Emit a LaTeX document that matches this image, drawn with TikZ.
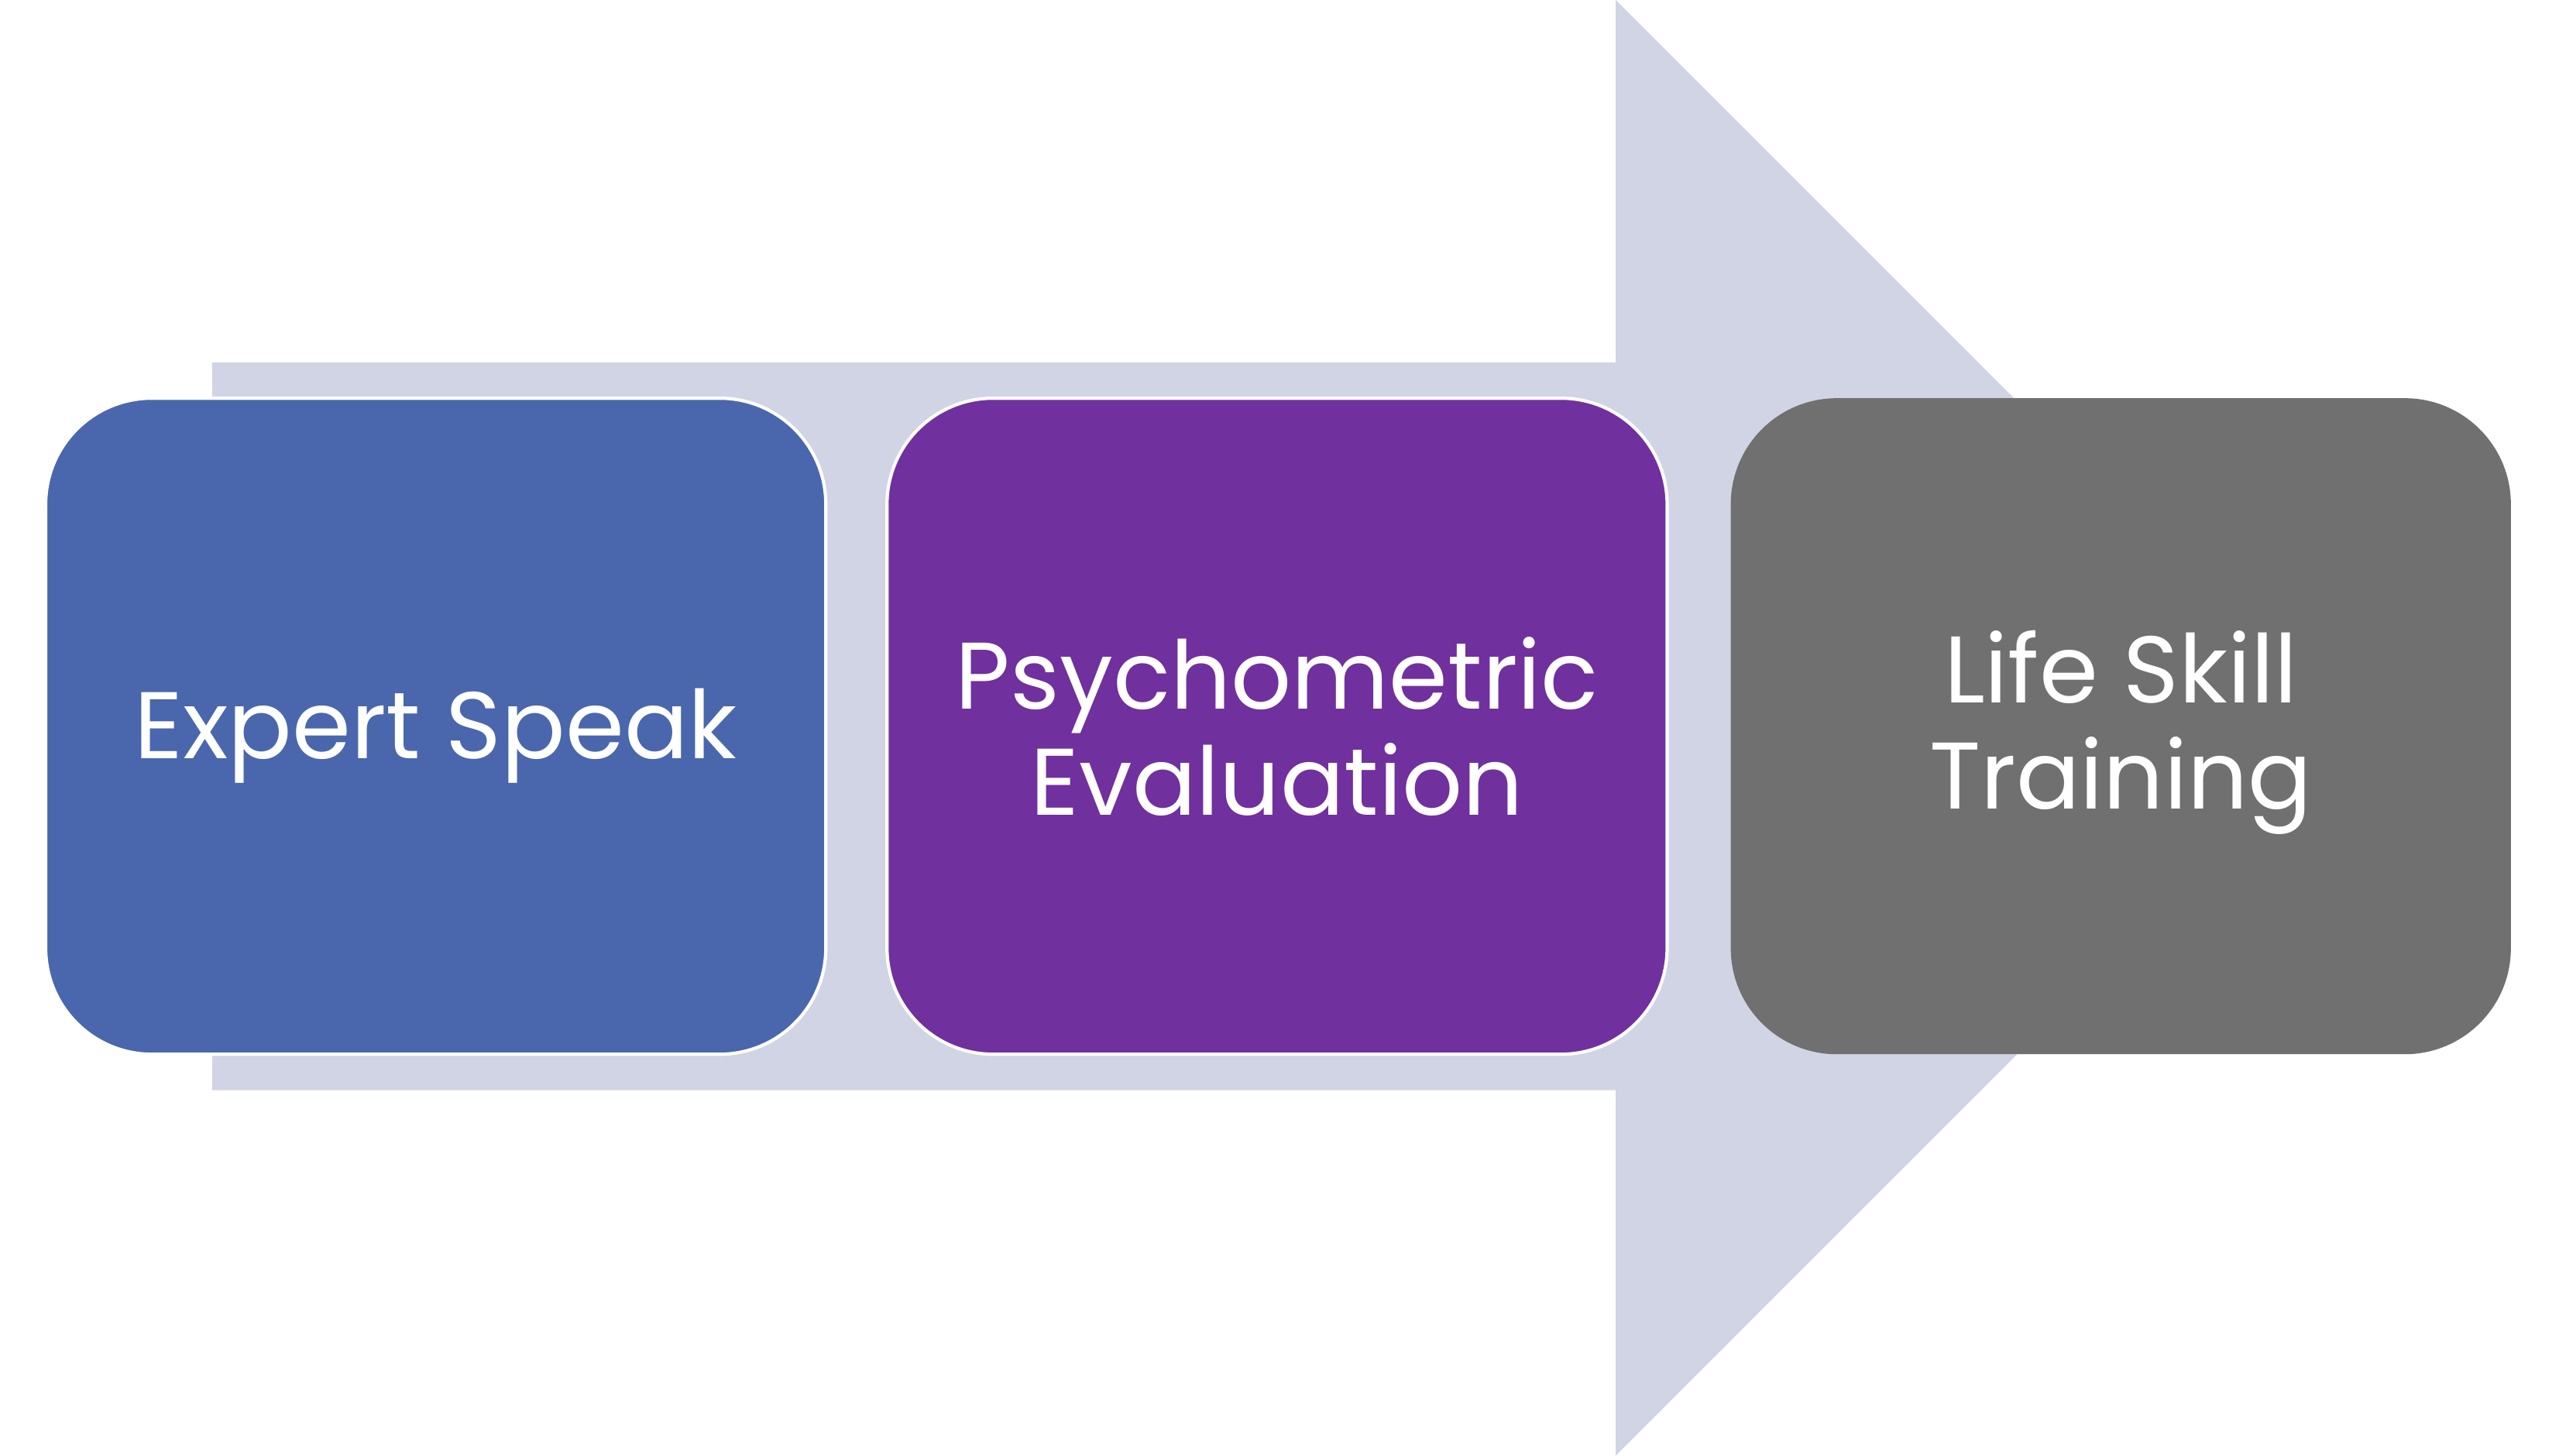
\documentclass[tikz,border=0pt]{standalone}
\usepackage{fontspec}
\setmainfont{Poppins}
\definecolor{arrowfill}{HTML}{D0D4E4}
\definecolor{boxblue}{HTML}{4A67AD}
\definecolor{boxpurple}{HTML}{70309E}
\definecolor{boxgray}{HTML}{707070}
\begin{document}
\begin{tikzpicture}[x=1pt,y=-1pt,
  labeltext/.style={text=white, align=center, font=\fontsize{58}{65}\selectfont},
  stepbox/.style={rounded corners=65pt, minimum width=478pt, minimum height=402pt,
    inner sep=0pt, labeltext},
  edged/.style={draw=white, line width=2pt}]
\useasboundingbox (0,0) rectangle (1568,892);
\fill[arrowfill] (130,222) -- (990,222) -- (990,0) -- (1436,446) -- (990,892) -- (990,668) -- (130,668) -- cycle;
\node[stepbox, edged, fill=boxblue] (expert) at (267,445) {};
\node[labeltext] (expertlabel) at (267,451) {Expert Speak};
\node[stepbox, edged, fill=boxpurple] (psycho) at (782.5,445) {Psychometric\\Evaluation};
\node[stepbox, fill=boxgray] (life) at (1299.5,445) {};
\node[labeltext] (lifelabel) at (1299.5,449) {Life Skill\\Training};
\end{tikzpicture}
\end{document}
